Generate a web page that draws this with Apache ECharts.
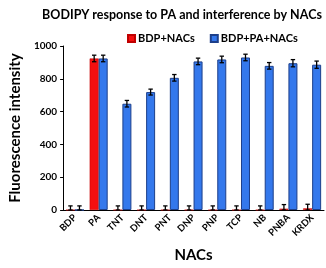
<!DOCTYPE html>
<html><head><meta charset="utf-8">
<script src="https://cdn.jsdelivr.net/npm/echarts@6/dist/echarts.min.js"></script>
<style>html,body{margin:0;padding:0;background:#fff}#c{width:326px;height:268px}</style>
</head><body><div id="c"></div>
<script>
var categories = ['BDP','PA','TNT','DNT','PNT','DNP','PNP','TCP','NB','PNBA','KRDX'];
var redValues = [0, 924, 0, 0, 0, 0, 0, 0, 0, 8, 10];
var redErrors = [25, 20, 25, 25, 25, 25, 25, 25, 25, 25, 25];
var blueValues = [0, 924, 648, 719, 806, 906, 918, 930, 879, 895, 886];
var blueErrors = [25, 20, 20, 18, 20, 20, 20, 20, 20, 22, 22];
var yTicks = [0, 200, 400, 600, 800, 1000];

var BW = 9;
function errData(vals, errs){ return vals.map(function(v,i){ return [i, v, errs[i]]; }); }
function errSeries(vals, errs, off){
  return {
    type:'custom', z:10,
    data: errData(vals, errs),
    renderItem: function(params, api){
      var i = api.value(0), v = api.value(1), e = api.value(2);
      var c = api.coord([i, v]);
      var x = c[0] + off;
      var top = api.coord([i, v + e])[1];
      var bot = api.coord([i, Math.max(0, v - e)])[1];
      var cap = 2.2;
      var st = {stroke:'#000', lineWidth:1.3};
      return {type:'group', children:[
        {type:'line', shape:{x1:x,y1:top,x2:x,y2:bot}, style:st},
        {type:'line', shape:{x1:x-cap,y1:top,x2:x+cap,y2:top}, style:st},
        {type:'line', shape:{x1:x-cap,y1:bot,x2:x+cap,y2:bot}, style:st}
      ]};
    }
  };
}
var font = 'Lato';
var chart = echarts.init(document.getElementById('c'));
chart.setOption({
  animation:false,
  title:{text:'BODIPY response to PA and interference by NACs', left:177, textAlign:'center', top:3,
    textStyle:{fontFamily:font, fontWeight:'bold', fontSize:12.5, color:'#000'}},
  legend:{top:28, left:122, itemWidth:7, itemHeight:7, itemGap:15,
    textStyle:{fontFamily:font, fontWeight:'bold', fontSize:11, color:'#000', padding:[0,0,0,-2]},
    data:[{name:'BDP+NACs', icon:'rect'},{name:'BDP+PA+NACs', icon:'rect'}]},
  grid:{left:49, right:2, top:46, bottom:53, containLabel:false},
  xAxis:{type:'category', data:categories,
    axisLine:{lineStyle:{color:'#000', width:1}},
    axisTick:{show:false},
    axisLabel:{rotate:45, fontFamily:font, fontWeight:'bold', fontSize:9.5, color:'#000', margin:6, interval:0},
    name:'NACs', nameLocation:'middle', nameGap:38,
    nameTextStyle:{fontFamily:font, fontWeight:'bold', fontSize:15, color:'#000'}},
  yAxis:{type:'value', min:0, max:1000, interval:200,
    axisLine:{show:true, lineStyle:{color:'#000', width:1}},
    axisTick:{show:true, length:3, lineStyle:{color:'#000'}},
    splitLine:{show:false},
    axisLabel:{fontFamily:font, fontWeight:'bold', fontSize:10, color:'#000', margin:6,
      formatter:function(v){ return yTicks.indexOf(v) >= 0 ? String(v) : ''; }},
    name:'Fluorescence intensity', nameLocation:'middle', nameGap:34,
    nameTextStyle:{fontFamily:font, fontWeight:'bold', fontSize:15, color:'#000'}},
  series:[
    {name:'BDP+NACs', type:'bar', data:redValues, barWidth:BW, barGap:'0%',
      itemStyle:{color:'#f50f0f', borderColor:'#c00000', borderWidth:0.5}},
    {name:'BDP+PA+NACs', type:'bar', data:blueValues, barWidth:BW, barGap:'0%',
      itemStyle:{color:'#3478ec', borderColor:'#1d3f8a', borderWidth:1}},
    errSeries(redValues, redErrors, -BW/2),
    errSeries(blueValues, blueErrors, BW/2)
  ]
});
</script></body></html>
